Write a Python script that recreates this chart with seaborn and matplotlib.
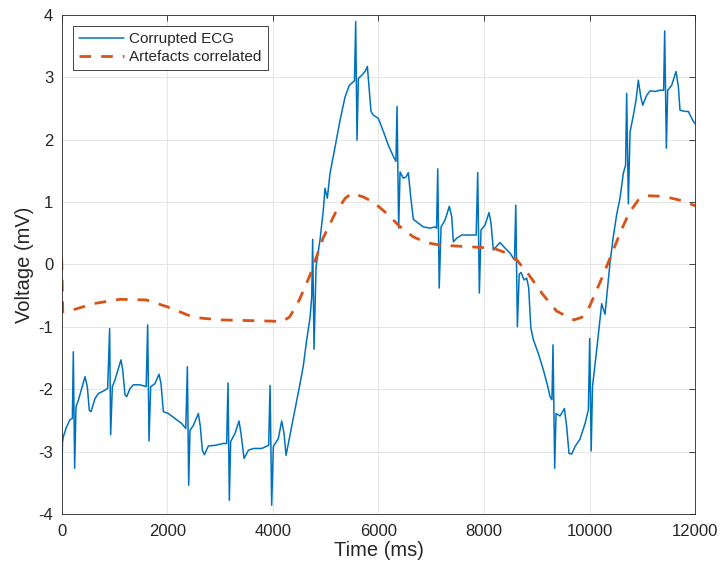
import numpy as np
import pandas as pd
import matplotlib
matplotlib.use("Agg")
import matplotlib.pyplot as plt
import seaborn as sns

# ---------------- data ----------------
ecg_t = [0, 15, 31, 94, 157, 202, 220, 245, 271, 315, 378, 441, 485, 523, 555, 631, 694, 788, 870,
         908, 927, 959, 1010, 1073, 1123, 1155, 1199, 1231, 1294, 1357, 1483, 1600, 1628, 1654, 1685,
         1767, 1843, 1881, 1925, 2020, 2146, 2272, 2350, 2380, 2405, 2430, 2494, 2588, 2626, 2664,
         2702, 2778, 2904, 3061, 3124, 3150, 3175, 3200, 3282, 3358, 3396, 3453, 3535, 3630, 3788,
         3920, 3946, 3977, 4008, 4103, 4167, 4211, 4249, 4293, 4419, 4514, 4577, 4640, 4703, 4735,
         4753, 4779, 4817, 4892, 4955, 4987, 5031, 5082, 5177, 5272, 5366, 5448, 5545, 5568, 5593,
         5619, 5682, 5745, 5789, 5820, 5858, 5902, 5997, 6092, 6186, 6281, 6330, 6351, 6382, 6408,
         6471, 6521, 6565, 6610, 6660, 6755, 6850, 6976, 7071, 7100, 7122, 7150, 7185, 7260, 7342,
         7387, 7418, 7482, 7576, 7702, 7850, 7879, 7910, 7942, 8018, 8093, 8131, 8175, 8226, 8302,
         8397, 8491, 8575, 8600, 8630, 8665, 8700, 8757, 8807, 8845, 8885, 8934, 9028, 9122, 9198,
         9249, 9285, 9305, 9337, 9362, 9438, 9520, 9564, 9608, 9659, 9722, 9817, 9912, 9975, 10000,
         10028, 10053, 10132, 10227, 10290, 10385, 10447, 10511, 10574, 10637, 10680, 10700, 10732,
         10764, 10827, 10877, 10921, 10966, 11004, 11080, 11143, 11238, 11333, 11400, 11420, 11452,
         11477, 11553, 11635, 11679, 11710, 11805, 11868, 11963, 12000]
ecg_v = [-3.40, -2.85, -2.76, -2.60, -2.49, -2.47, -1.40, -3.27, -2.28, -2.18, -1.99, -1.80, -1.96,
         -2.34, -2.36, -2.15, -2.07, -2.03, -1.99, -1.03, -2.73, -1.96, -1.85, -1.67, -1.53, -1.69,
         -2.09, -2.12, -1.99, -1.93, -1.93, -1.96, -0.97, -2.83, -1.96, -1.91, -1.76, -1.91, -2.36,
         -2.39, -2.47, -2.55, -2.63, -1.64, -3.54, -2.66, -2.58, -2.39, -2.60, -2.98, -3.05, -2.91,
         -2.90, -2.87, -2.87, -1.90, -3.78, -2.84, -2.71, -2.51, -2.71, -3.11, -2.98, -2.95, -2.95,
         -2.90, -1.94, -3.86, -2.92, -2.79, -2.51, -2.71, -3.06, -2.87, -2.33, -1.91, -1.62, -1.21,
         -0.86, -0.52, 0.40, -1.36, -0.04, 0.39, 0.87, 1.22, 1.06, 1.46, 1.88, 2.31, 2.68, 2.87, 2.94,
         3.89, 1.99, 2.98, 3.03, 3.09, 3.17, 2.85, 2.45, 2.39, 2.34, 2.13, 1.91, 1.73, 1.65, 2.53,
         0.58, 1.48, 1.38, 1.40, 1.47, 1.08, 0.72, 0.66, 0.60, 0.58, 0.60, 0.58, 1.53, -0.38, 0.60,
         0.71, 0.93, 0.76, 0.36, 0.42, 0.47, 0.47, 0.47, 1.47, -0.46, 0.55, 0.63, 0.83, 0.66, 0.23,
         0.28, 0.35, 0.26, 0.18, 0.07, 0.95, -1.00, -0.16, -0.13, -0.25, -0.22, -0.38, -1.02, -1.21,
         -1.43, -1.69, -1.93, -2.12, -2.17, -1.29, -3.27, -2.39, -2.43, -2.31, -2.60, -3.03, -3.04,
         -2.92, -2.80, -2.55, -2.33, -1.19, -2.99, -1.96, -1.37, -0.63, -0.80, 0.03, 0.44, 0.80, 1.06,
         1.46, 1.59, 2.74, 0.97, 2.12, 2.39, 2.63, 2.95, 2.69, 2.55, 2.71, 2.78, 2.77, 2.79, 2.79,
         3.74, 1.86, 2.79, 2.87, 3.09, 2.85, 2.47, 2.45, 2.45, 2.29, 2.25]

art_t = [0, 20, 250, 600, 1100, 1600, 2000, 2500, 3000, 3500, 4000, 4170, 4320, 4500, 4700, 4950,
         5180, 5370, 5500, 5710, 5900, 6150, 6400, 6660, 6900, 7150, 7750, 8170, 8430, 8620, 8850,
         9100, 9375, 9700, 9850, 10000, 10200, 10400, 10600, 10750, 10920, 11080, 11400, 11700, 12000]
art_v = [0.10, -0.76, -0.72, -0.63, -0.56, -0.57, -0.68, -0.85, -0.89, -0.90, -0.91, -0.92, -0.84,
         -0.57, -0.18, 0.42, 0.82, 1.06, 1.14, 1.08, 1.00, 0.82, 0.61, 0.44, 0.35, 0.31, 0.28, 0.26,
         0.18, 0.07, -0.17, -0.47, -0.75, -0.89, -0.85, -0.67, -0.28, 0.13, 0.55, 0.83, 1.03, 1.10,
         1.09, 1.03, 0.94]

x_ticks = [0, 2000, 4000, 6000, 8000, 10000, 12000]
y_ticks = [-4, -3, -2, -1, 0, 1, 2, 3, 4]
series_names = ["Corrupted ECG", "Artefacts correlated"]

# ---------------- styling ----------------
sns.set_style("white")
plt.rcParams["font.family"] = ["Liberation Sans", "DejaVu Sans"]
plt.rcParams["axes.unicode_minus"] = False

BLUE = "#0072BD"
ORANGE = "#D95319"
DARK = "#262626"

fig = plt.figure(figsize=(7.2, 5.69), dpi=100)
ax = fig.add_axes([61.7 / 720, 1 - 514 / 569, 633.6 / 720, 499.3 / 569])

ecg_df = pd.DataFrame({"t": ecg_t, "v": ecg_v})
art_df = pd.DataFrame({"t": art_t, "v": art_v})

sns.lineplot(data=ecg_df, x="t", y="v", ax=ax, color=BLUE, lw=1.1, sort=False,
             estimator=None, label=series_names[0])
sns.lineplot(data=art_df, x="t", y="v", ax=ax, color=ORANGE, lw=2.0, sort=False,
             estimator=None, label=series_names[1], dashes=False)
ax.lines[1].set_dashes((4.2, 3.6))

ax.set_xlim(0, 12000)
ax.set_ylim(-4, 4)
ax.set_xticks(x_ticks)
ax.set_yticks(y_ticks)
ax.set_xticklabels([str(v) for v in x_ticks])
ax.set_yticklabels([str(v) for v in y_ticks])

ax.grid(True, color="#e0e0e0", lw=0.6)
ax.set_axisbelow(True)
for s in ax.spines.values():
    s.set_visible(True)
    s.set_color(DARK)
    s.set_linewidth(0.6)
ax.tick_params(direction="in", length=4.5, width=0.6, color=DARK, labelcolor=DARK,
               labelsize=12, top=True, right=True)
ax.tick_params(axis="x", pad=7)
ax.tick_params(axis="y", pad=6)

ax.set_xlabel("Time (ms)", fontsize=14.5, color=DARK, labelpad=2)
ax.set_ylabel("Voltage (mV)", fontsize=14.5, color=DARK, labelpad=3)

leg = ax.legend(loc="upper left", bbox_to_anchor=(0.0183, 0.977), fontsize=11,
                frameon=True, fancybox=False, edgecolor=DARK, framealpha=1,
                handlelength=2.9, handletextpad=0.35, borderpad=0.4, labelspacing=0.25,
                borderaxespad=0)
leg.get_frame().set_linewidth(0.6)

fig.savefig("out.png", dpi=100)
